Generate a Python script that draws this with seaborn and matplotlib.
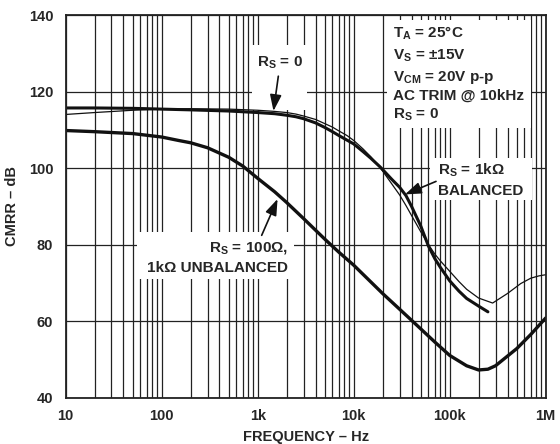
import seaborn as sns
import matplotlib
matplotlib.use('Agg')
import matplotlib.pyplot as plt
from matplotlib.patches import Rectangle
from matplotlib.ticker import FixedLocator, LogLocator, NullFormatter

# CMRR (dB) vs frequency (Hz)
freq_bal = [10, 20, 50, 100, 200, 500, 1000, 1500, 2000, 2500, 3000, 4000, 5000,
            6000, 7000, 8500, 10000, 12500, 15000, 19000, 25000, 30000, 35000,
            40000, 50000, 60000, 70000, 80000, 100000, 125000, 150000, 200000, 250000]
cmrr_bal = [115.7, 115.7, 115.6, 115.4, 115.2, 114.9, 114.5, 114.2, 113.8, 113.4,
            112.9, 111.8, 110.6, 109.5, 108.5, 107.3, 106.3, 104.3, 102.6, 100.2,
            97.0, 95.0, 92.8, 90.0, 84.8, 79.6, 76.3, 74.0, 70.5, 67.8, 65.9,
            63.9, 62.4]

freq_rs0 = [10, 20, 50, 100, 200, 500, 1000, 1500, 2000, 2500, 3000, 4000, 5000,
            6000, 7000, 8500, 10000, 12500, 15000, 19000, 25000, 30000, 35000,
            40000, 50000, 60000, 70000, 80000, 100000, 125000, 150000, 200000,
            280000, 400000, 550000, 700000, 850000, 1000000]
cmrr_rs0 = [114.0, 114.5, 115.1, 115.4, 115.5, 115.4, 115.1, 114.8, 114.5, 114.1,
            113.6, 112.7, 111.6, 110.7, 109.7, 108.5, 107.2, 105.0, 103.0, 100.0,
            95.8, 93.0, 90.2, 87.6, 83.3, 80.0, 77.5, 75.7, 73.0, 70.3, 68.3,
            66.0, 64.7, 67.2, 69.8, 71.2, 71.8, 72.1]

freq_unbal = [10, 20, 50, 100, 150, 200, 300, 500, 700, 1000, 1500, 2000, 3000,
              5000, 7000, 10000, 20000, 40000, 70000, 100000, 150000, 200000,
              250000, 300000, 500000, 700000, 1000000]
cmrr_unbal = [109.8, 109.5, 109.0, 108.1, 107.2, 106.6, 105.3, 102.8, 100.5, 97.3,
              93.8, 91.0, 86.8, 81.4, 78.0, 74.6, 67.2, 60.2, 54.5, 51.0, 48.3,
              47.2, 47.4, 48.3, 52.8, 56.5, 60.8]

x_ticks = [10, 100, 1000, 10000, 100000, 1000000]
x_labels = ['10', '100', '1k', '10k', '100k', '1M']
y_ticks = [40, 60, 80, 100, 120, 140]

sns.set_style('white')
plt.rcParams['font.family'] = ['Liberation Sans', 'DejaVu Sans']
plt.rcParams['font.weight'] = 'bold'
plt.rcParams['axes.labelweight'] = 'bold'
plt.rcParams['mathtext.fontset'] = 'custom'
plt.rcParams['mathtext.rm'] = 'Liberation Sans:bold'
plt.rcParams['mathtext.it'] = 'Liberation Sans:bold'
plt.rcParams['mathtext.bf'] = 'Liberation Sans:bold'

fig = plt.figure(figsize=(5.6, 4.44), dpi=100)
ax = fig.add_axes([0.1173, 0.1047, 0.8572, 0.8615])

sns.lineplot(x=freq_bal, y=cmrr_bal, ax=ax, color='#111111', linewidth=2.2)
sns.lineplot(x=freq_rs0, y=cmrr_rs0, ax=ax, color='#111111', linewidth=0.9)
sns.lineplot(x=freq_unbal, y=cmrr_unbal, ax=ax, color='#111111', linewidth=2.4)

ax.set_xscale('log')
ax.set_xlim(10, 1e6)
ax.set_ylim(40, 140)
ax.xaxis.set_major_locator(FixedLocator(x_ticks))
ax.set_xticklabels(x_labels)
ax.xaxis.set_minor_locator(LogLocator(base=10, subs=range(2, 10)))
ax.xaxis.set_minor_formatter(NullFormatter())
ax.set_yticks(y_ticks)
ax.tick_params(which='both', length=0, labelsize=10.5)
ax.tick_params(axis='y', pad=9)
ax.tick_params(axis='x', pad=8)
ax.set_axisbelow(True)
ax.grid(which='both', axis='x', color='#222222', linewidth=0.9)
ax.grid(which='major', axis='y', color='#222222', linewidth=0.9)
for s in ax.spines.values():
    s.set_color('#222222')
    s.set_linewidth(1.3)

ax.set_xlabel('FREQUENCY – Hz', fontsize=10.5, labelpad=5)
ax.set_ylabel('CMRR – dB', fontsize=10.5, labelpad=7)

# white boxes that hide the grid behind the labels
for x0, y0, w, h in [(0.388, 0.752, 0.115, 0.170),
                     (0.669, 0.705, 0.300, 0.282),
                     (0.759, 0.516, 0.213, 0.110),
                     (0.148, 0.310, 0.328, 0.123)]:
    ax.add_patch(Rectangle((x0, y0), w, h, transform=ax.transAxes,
                           facecolor='white', edgecolor='none', zorder=1.5))

fs = 11
cond = ['T$_\\mathrm{A}$ = 25°C', 'V$_\\mathrm{S}$ = ±15V',
        'V$_\\mathrm{CM}$ = 20V p-p', 'AC TRIM @ 10kHz', 'R$_\\mathrm{S}$ = 0']
for txt, yy in zip(cond, [0.940, 0.883, 0.827, 0.778, 0.729]):
    ax.text(0.6825, yy, txt, transform=ax.transAxes, fontsize=fs,
            va='baseline', ha='left', zorder=4)

arrow = dict(arrowstyle='-|>,head_length=0.7,head_width=0.25', color='#111111',
             lw=1.2, mutation_scale=14, shrinkA=0, shrinkB=0)

ax.text(0.4458, 0.8645, 'R$_\\mathrm{S}$ = 0', transform=ax.transAxes,
        fontsize=fs, va='baseline', ha='center', zorder=4)
ax.annotate('', xy=(1460, 114.9), xytext=(1640, 124.0), arrowprops=arrow)

ax.text(0.7756, 0.5817, 'R$_\\mathrm{S}$ = 1kΩ', transform=ax.transAxes,
        fontsize=fs, va='baseline', ha='left', zorder=4)
ax.text(0.7756, 0.5294, 'BALANCED', transform=ax.transAxes,
        fontsize=fs, va='baseline', ha='left', zorder=4)
ax.annotate('', xy=(34200, 93.1), xytext=(72000, 96.5), arrowprops=arrow)

ax.text(0.4631, 0.3812, 'R$_\\mathrm{S}$ = 100Ω,', transform=ax.transAxes,
        fontsize=fs, va='baseline', ha='right', zorder=4)
ax.text(0.4631, 0.3289, '1kΩ UNBALANCED', transform=ax.transAxes,
        fontsize=fs, va='baseline', ha='right', zorder=4)
ax.annotate('', xy=(1610, 91.9), xytext=(1100, 82.4), arrowprops=arrow)

fig.savefig('out.png', dpi=100)
